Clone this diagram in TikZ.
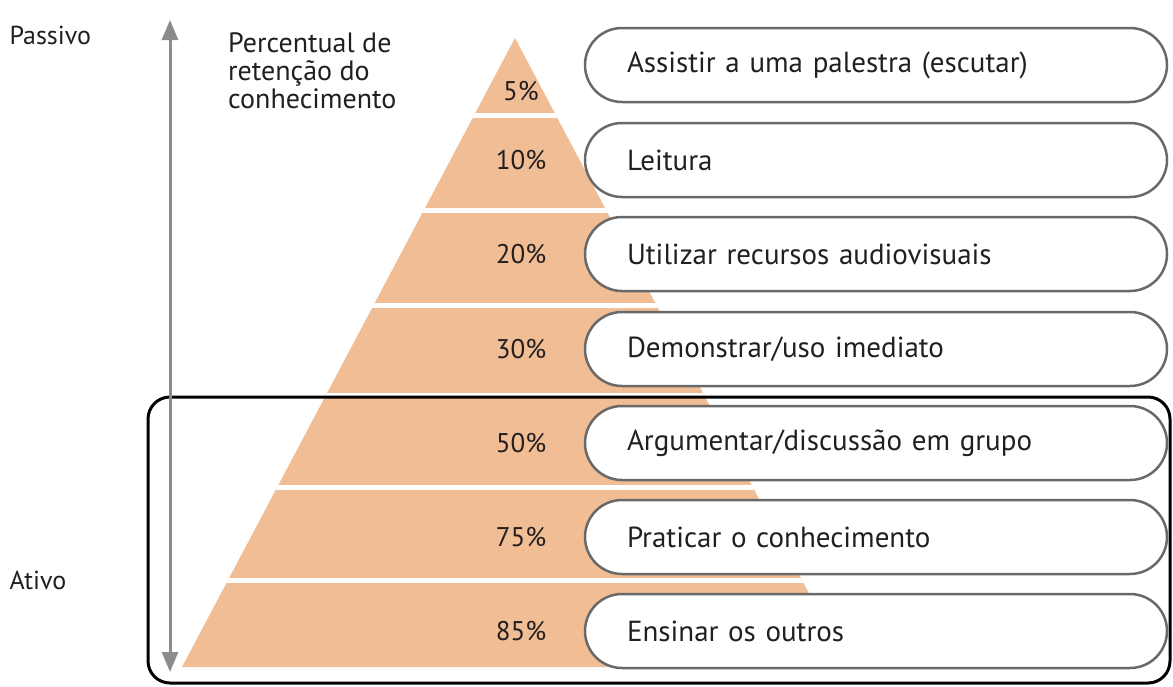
\documentclass[tikz,border=0pt]{standalone}
\usepackage{fontspec}
\setmainfont{PT Sans}
\usetikzlibrary{arrows.meta}
\definecolor{peach}{RGB}{240,189,148}
\definecolor{boxgray}{RGB}{105,105,105}
\definecolor{axisgray}{RGB}{140,140,140}
\definecolor{ink}{RGB}{35,31,32}
\tikzset{
  activity/.style={draw=boxgray, line width=2.5pt, fill=white, rounded corners=37pt,
    minimum height=74pt, text width=498pt, inner xsep=42pt, align=left,
    font=\fontsize{29}{32}\selectfont, text=ink},
  pct/.style={font=\fontsize{27}{29}\selectfont, text=ink},
  side/.style={anchor=west, font=\fontsize{26}{28}\selectfont, text=ink},
}
\begin{document}
\begin{tikzpicture}[x=1pt, y=-1pt]
\useasboundingbox (0,0) rectangle (1173,686);
\coordinate (apex) at (515,38);
\coordinate (BL) at (182,667);
\coordinate (BR) at (848,667);
% pyramid
\fill[peach] (apex) -- (BR) -- (BL) -- cycle;
\begin{scope}
\clip (apex) -- (BR) -- (BL) -- cycle;
\foreach \y in {115,210,305,395,487,580}
  \draw[white, line width=5pt] (150,\y) -- (900,\y);
\end{scope}
% active frame
\draw[line width=3pt, rounded corners=22pt] (148,397) rectangle (1170,683);
% axis
\coordinate (passive end) at (170,20);
\coordinate (active end) at (170,672);
\draw[axisgray, line width=3pt, {Triangle[length=20pt,width=16pt]}-{Triangle[length=20pt,width=16pt]}]
  (passive end) -- (active end);
\node[side] (passivo) at (6,35) {Passivo};
\node[side] (ativo) at (6,580) {Ativo};
\node[anchor=north west, align=left, inner sep=0pt, font=\fontsize{28}{28}\selectfont, text=ink]
  (title) at (228,32) {Percentual de\\retenção do\\conhecimento};
% levels
\foreach \i/\y/\py/\pc/\txt in {1/65/91/5\%/{Assistir a uma palestra (escutar)},
    2/160/160/10\%/{Leitura}, 3/254/254/20\%/{Utilizar recursos audiovisuais},
    4/349/349/30\%/{Demonstrar/uso imediato}, 5/443/443/50\%/{Argumentar/discussão em grupo},
    6/537/537/75\%/{Praticar o conhecimento}, 7/631/631/85\%/{Ensinar os outros}}
{
  \node[activity] (box\i) at (876,\y) {\txt};
  \node[pct] (pct\i) at (521,\py) {\pc};
}
\end{tikzpicture}
\end{document}
